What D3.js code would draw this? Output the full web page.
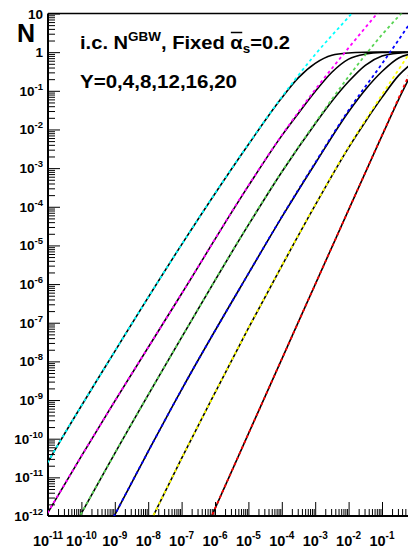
<!DOCTYPE html>
<html>
<head>
<meta charset="utf-8">
<script src="https://cdn.jsdelivr.net/npm/d3@7"></script>
<style>
  body { margin: 0; background: #fff; }
  svg { display: block; font-family: "Liberation Sans", Arial, sans-serif; font-weight: bold; }
  .axis path, .axis line { stroke: #000; }
</style>
</head>
<body>
<svg width="408" height="555"></svg>
<script>
// rapidity values of the curves and their dashed colours
const rapidities = [0, 4, 8, 12, 16, 20];
const dashColors = ['#ff0000', '#ffff00', '#0000ff', '#59d454', '#ff00ff', '#00ffff'];

// tick exponents
const xTickExp = [-11, -10, -9, -8, -7, -6, -5, -4, -3, -2, -1];
const yTickExp = [-12, -11, -10, -9, -8, -7, -6, -5, -4, -3, -2, -1, 0, 1];

// dashed (linear) curves, [log10 r, log10 N]
const lin0  = [[-6.3,-12.39],[-4,-7.94],[-2,-4.08],[0,-0.22]];
const lin4  = [[-8,-12.26],[-7,-10.51],[-6,-8.81],[-5,-7.14],[-4,-5.52],[-3,-3.95],[-2,-2.45],[-1,-1.10],[0,0.2]];
const lin8  = [[-9.2,-12.3],[-8,-10.33],[-7,-8.73],[-5,-5.73],[-4,-4.26],[-3,-2.86],[-2,-1.5],[-1,-0.3],[0,0.95]];
const lin12 = [[-10.2,-12.24],[-9,-10.38],[-7,-7.38],[-5,-4.46],[-4,-3.09],[-3,-1.83],[-2,-0.63],[-1,0.45],[0,1.38]];
const lin16 = [[-11.2,-12.2],[-10,-10.45],[-9,-9.03],[-7,-6.25],[-5,-3.45],[-4,-2.15],[-3,-0.97],[-2,0.11],[-1,1.15]];
const lin20 = [[-11.2,-10.9],[-11,-10.6],[-9,-7.74],[-7,-4.98],[-5,-2.38],[-4,-1.16],[-3,-0.06],[-2,0.91],[-1.5,1.4]];

// full (black) curves
const full0  = [[-6.3,-12.39],[-4,-7.94],[-2,-4.08],[-1,-2.16],[-0.5,-1.22],[0,-0.36]];
const full4  = [[-8,-12.26],[-7,-10.51],[-6,-8.81],[-5,-7.14],[-4,-5.53],[-3,-3.96],[-2,-2.47],[-1.5,-1.8],[-1,-1.17],[-0.5,-0.6],[0,-0.22]];
const full8  = [[-9.2,-12.3],[-8,-10.33],[-7,-8.73],[-5,-5.73],[-4,-4.27],[-3,-2.88],[-2,-1.54],[-1.5,-0.97],[-1,-0.5],[-0.5,-0.15],[0,-0.03]];
const full12 = [[-10.2,-12.24],[-9,-10.38],[-7,-7.38],[-5,-4.47],[-4,-3.10],[-3,-1.85],[-2.5,-1.27],[-2,-0.76],[-1.5,-0.34],[-1,-0.1],[-0.5,-0.025],[0,-0.005]];
const full16 = [[-11.2,-12.2],[-10,-10.45],[-9,-9.03],[-7,-6.25],[-5,-3.46],[-4,-2.16],[-3.5,-1.58],[-3,-1.02],[-2.5,-0.52],[-2,-0.18],[-1.5,-0.05],[-1,-0.01],[0,0]];
const full20 = [[-11.2,-10.9],[-11,-10.6],[-9,-7.74],[-7,-4.98],[-5,-2.39],[-4,-1.18],[-3.5,-0.66],[-3,-0.29],[-2.5,-0.08],[-2,-0.02],[-1.5,-0.004],[-1,0],[0,0]];

const linCurves = [lin0, lin4, lin8, lin12, lin16, lin20];
const fullCurves = [full0, full4, full8, full12, full16, full20];

const svg = d3.select('svg');

const padLeft = 48, padTop = 13.5, padBottom = 516, padRight = 415.4;

const x = d3.scaleLog().domain([1e-11, 1]).range([padLeft, padRight]);
const y = d3.scaleLog().domain([1e-12, 10]).range([padBottom, padTop]);

svg.append('defs').append('clipPath').attr('id', 'plot')
  .append('rect').attr('x', padLeft).attr('y', padTop)
  .attr('width', padRight - padLeft).attr('height', padBottom - padTop);

const minor = (lo, hi) => {
  const out = [];
  for (let e = lo; e < hi; e++) for (let k = 2; k <= 9; k++) out.push(k * Math.pow(10, e));
  return out;
};

// x axis ticks (pointing up, inside)
svg.append('g').attr('class', 'axis')
  .attr('transform', `translate(0,${padBottom})`)
  .call(d3.axisBottom(x).tickValues(minor(-11, 0)).tickSize(-7).tickSizeOuter(0).tickFormat(''))
  .call(g => g.select('.domain').remove());
svg.append('g').attr('class', 'axis')
  .attr('transform', `translate(0,${padBottom})`)
  .call(d3.axisBottom(x).tickValues(xTickExp.map(e => Math.pow(10, e))).tickSize(-14).tickSizeOuter(0).tickFormat(''))
  .call(g => g.select('.domain').remove());

// y axis ticks (pointing right, inside)
svg.append('g').attr('class', 'axis')
  .attr('transform', `translate(${padLeft},0)`)
  .call(d3.axisLeft(y).tickValues(minor(-12, 1)).tickSize(-7).tickSizeOuter(0).tickFormat(''))
  .call(g => g.select('.domain').remove());
svg.append('g').attr('class', 'axis')
  .attr('transform', `translate(${padLeft},0)`)
  .call(d3.axisLeft(y).tickValues(yTickExp.map(e => Math.pow(10, e))).tickSize(-12).tickSizeOuter(0).tickFormat(''))
  .call(g => g.select('.domain').remove());

// frame
svg.append('line').attr('x1', padLeft).attr('x2', 408).attr('y1', padBottom).attr('y2', padBottom)
  .attr('stroke', '#000').attr('stroke-width', 2);
svg.append('line').attr('x1', padLeft).attr('x2', padLeft).attr('y1', padTop).attr('y2', padBottom)
  .attr('stroke', '#000').attr('stroke-width', 2);
svg.append('line').attr('x1', padLeft).attr('x2', 408).attr('y1', padTop).attr('y2', padTop)
  .attr('stroke', '#000').attr('stroke-width', 1.5);

// curves
const line = d3.line()
  .x(d => x(Math.pow(10, d[0])))
  .y(d => y(Math.pow(10, d[1])))
  .curve(d3.curveMonotoneX);

const plot = svg.append('g').attr('clip-path', 'url(#plot)');

plot.selectAll('.full').data(fullCurves).enter().append('path')
  .attr('class', 'full')
  .attr('d', line)
  .attr('fill', 'none').attr('stroke', '#000').attr('stroke-width', 1.6);

plot.selectAll('.lin').data(linCurves).enter().append('path')
  .attr('class', 'lin')
  .attr('d', line)
  .attr('fill', 'none')
  .attr('stroke', (d, i) => dashColors[i])
  .attr('stroke-width', 1.8)
  .attr('stroke-dasharray', '3,3');

// tick labels
const xl = svg.append('g').selectAll('text').data(xTickExp).enter().append('text')
  .attr('x', e => x(Math.pow(10, e)))
  .attr('y', 546)
  .attr('text-anchor', 'middle')
  .attr('font-size', 14.5);
xl.append('tspan').text('10');
xl.append('tspan').attr('font-size', 10).attr('dy', -7).text(e => e);

const yl = svg.append('g').selectAll('text').data(yTickExp).enter().append('text')
  .attr('x', 43)
  .attr('y', e => y(Math.pow(10, e)) + 5)
  .attr('text-anchor', 'end')
  .attr('font-size', 13.5);
yl.append('tspan').text(e => e === 0 ? '1' : '10');
yl.append('tspan').attr('font-size', 9.5).attr('dy', -6).text(e => (e === 0 || e === 1) ? '' : e);

// axis title
svg.append('text').attr('x', 17).attr('y', 42).attr('font-size', 25).text('N');

// legend text
const t1 = svg.append('text').attr('x', 80).attr('y', 49).attr('font-size', 18)
  .attr('textLength', 210).attr('lengthAdjust', 'spacingAndGlyphs');
t1.append('tspan').text('i.c. N');
t1.append('tspan').attr('font-size', 12).attr('dy', -8).text('GBW');
t1.append('tspan').attr('dy', 8).text(', Fixed ');
t1.append('tspan').text('\u03b1');
t1.append('tspan').attr('font-size', 12).attr('dy', 4).text('s');
t1.append('tspan').attr('dy', -4).text('=0.2');

// bar over alpha
const ext = t1.node().getExtentOfChar(17);
svg.append('line')
  .attr('x1', ext.x + 0.5).attr('x2', ext.x + ext.width - 0.5)
  .attr('y1', 32.5).attr('y2', 32.5)
  .attr('stroke', '#000').attr('stroke-width', 1.5);

svg.append('text').attr('x', 80).attr('y', 88).attr('font-size', 18)
  .attr('textLength', 157).attr('lengthAdjust', 'spacingAndGlyphs')
  .text('Y=0,4,8,12,16,20');
</script>
</body>
</html>
